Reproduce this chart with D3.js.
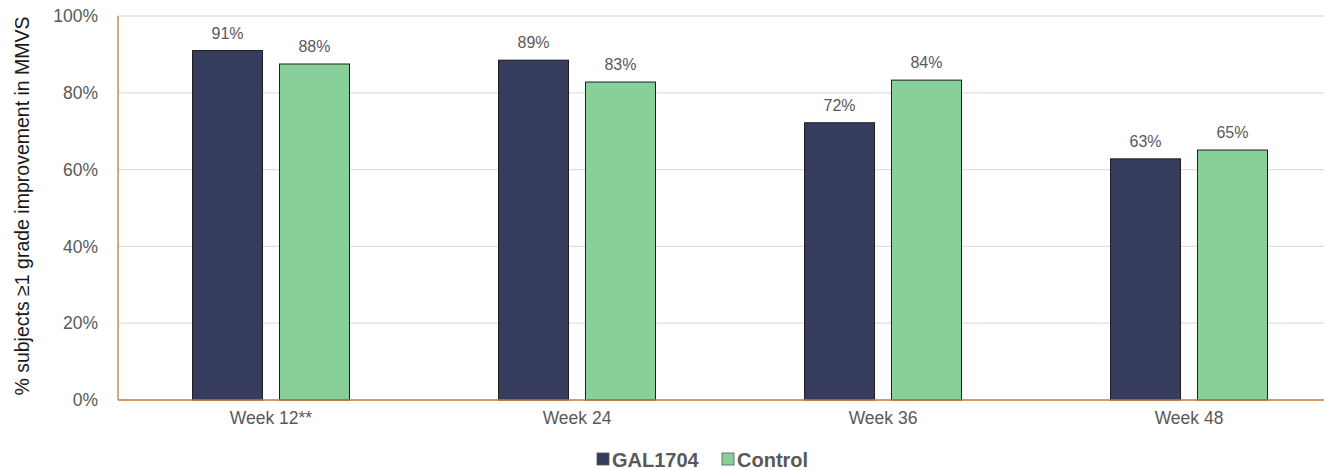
<!DOCTYPE html>
<html><head><meta charset="utf-8">
<script src="https://cdn.jsdelivr.net/npm/d3@7"></script>
<style>
body{margin:0;background:#fff;}
svg text{font-family:"Liberation Sans",Arial,sans-serif;}
</style></head>
<body><svg id="c" width="1324" height="470"></svg>
<script>
const categories = ["Week 12**","Week 24","Week 36","Week 48"];
const seriesNames = ["GAL1704","Control"];
const gal1704 = [0.91, 0.885, 0.722, 0.628];
const control = [0.875, 0.828, 0.833, 0.651];
const gal1704Labels = ["91%","89%","72%","63%"];
const controlLabels = ["88%","83%","84%","65%"];
const yTicks = [0,0.2,0.4,0.6,0.8,1.0];

(function(){
const colors = ["#353c5e","#88d09a"];
const svg = d3.select("#c");
const pL = 118, pR = 1342, pT = 16, pB = 400;

const x = d3.scaleBand().domain(categories).range([pL,pR]).paddingInner(0).paddingOuter(0);
const x1 = d3.scaleBand().domain(seriesNames).range([0,157]).paddingInner(0.195);
const y = d3.scaleLinear().domain([0,1]).range([pB,pT]);

svg.append("g").selectAll("line").data(yTicks.filter(d=>d>0)).join("line")
  .attr("x1",pL).attr("x2",1324).attr("y1",d=>y(d)).attr("y2",d=>y(d))
  .attr("stroke","#dedede").attr("stroke-width",1.3);

const yAxis = d3.axisLeft(y).tickValues(yTicks).tickFormat(d3.format(".0%")).tickSize(0).tickPadding(20);
const ga = svg.append("g").attr("transform",`translate(${pL},0)`).call(yAxis);
ga.select(".domain").remove();
ga.selectAll("text").attr("fill","#595959").style("font-size","17.5px");

const data = [gal1704, control];
const labels = [gal1704Labels, controlLabels];
const groups = svg.append("g");
categories.forEach((c,i)=>{
  seriesNames.forEach((s,j)=>{
    const v = data[j][i];
    const bx = x(c) + x.bandwidth()/2 - 78.5 + x1(s);
    groups.append("rect").attr("x",bx).attr("y",y(v)).attr("width",x1.bandwidth()).attr("height",pB-y(v))
      .attr("fill",colors[j]).attr("stroke","#1e1e1e").attr("stroke-width",1);
    groups.append("text").attr("x",bx+x1.bandwidth()/2).attr("y",y(v)-12)
      .attr("text-anchor","middle").attr("fill","#595959").style("font-size","16px").text(labels[j][i]);
  });
});

svg.append("line").attr("x1",pL).attr("x2",pL).attr("y1",pT).attr("y2",pB)
  .attr("stroke","#c97a32").attr("stroke-width",1.3);
svg.append("line").attr("x1",pL).attr("x2",1324).attr("y1",pB).attr("y2",pB)
  .attr("stroke","#c97a32").attr("stroke-width",1.3);

const xAxis = d3.axisBottom(x).tickSize(0).tickPadding(12);
const gx = svg.append("g").attr("transform",`translate(0,${pB})`).call(xAxis);
gx.select(".domain").remove();
gx.selectAll("text").attr("fill","#595959").style("font-size","17.5px");

svg.append("text").attr("transform","translate(29,206) rotate(-90)").attr("text-anchor","middle")
  .attr("fill","#1a1a1a").style("font-size","19.5px").text("% subjects ≥1 grade improvement in MMVS");

const leg = svg.append("g");
const legX = [597, 722];
seriesNames.forEach((s,j)=>{
  leg.append("rect").attr("x",legX[j]).attr("y",453).attr("width",12).attr("height",12)
    .attr("fill",colors[j]).attr("stroke","#555").attr("stroke-width",0.8);
  leg.append("text").attr("x",legX[j]+15).attr("y",467).attr("fill","#595959")
    .style("font-size","20px").style("font-weight","bold").text(s);
});
})();
</script></body></html>
